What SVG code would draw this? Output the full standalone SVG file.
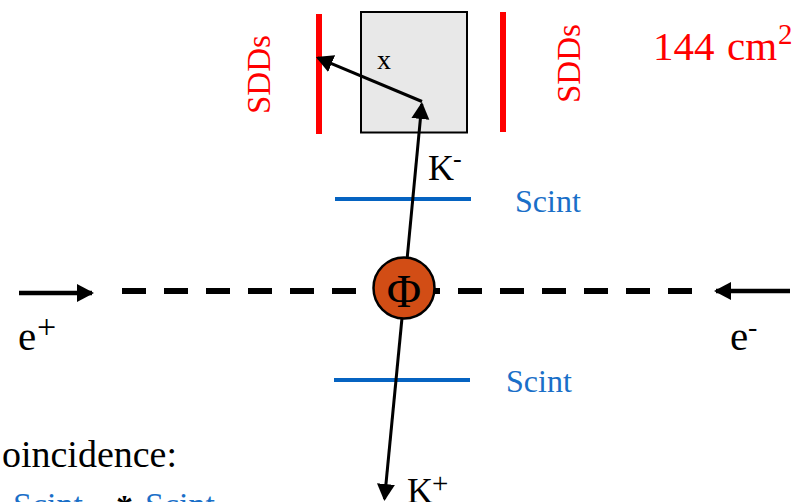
<svg xmlns="http://www.w3.org/2000/svg" width="798" height="502" viewBox="0 0 798 502">
<style>
text{font-family:"Liberation Serif","Times New Roman",serif}
.k{fill:#000}.r{fill:#f00}.b{fill:#1a6fc8}
.blue{stroke:#0563c1;stroke-width:4;fill:none}
.red{stroke:#f00;stroke-width:6;fill:none}
.thin{stroke:#000;stroke-width:3;fill:none}
.beam{stroke:#000;stroke-width:4.500;fill:none}
</style>
<defs>
<marker id="ah" markerUnits="userSpaceOnUse" markerWidth="19" markerHeight="19" refX="15" refY="9" orient="auto"><path d="M0 0L17 9L0 18Z" fill="#000"/></marker>
</defs>
<rect width="798" height="502" fill="#fff"/>
<g id="target"><rect x="361" y="12" width="106" height="120.500" fill="#e8e8e8" stroke="#000" stroke-width="2"/><text x="377" y="69" font-size="28" class="k">x</text></g>
<g id="sdd-left"><line x1="319" y1="14" x2="319" y2="134" class="red"/><text transform="translate(270 114) rotate(-90)" font-size="33" class="r">SDDs</text></g>
<g id="sdd-right"><line x1="503" y1="12" x2="503" y2="132" class="red"/><text transform="translate(580 103) rotate(-90)" font-size="33" class="r">SDDs</text></g>
<g id="area"><text x="653" y="60" font-size="41" class="r">144 <tspan x="727">cm</tspan><tspan x="778" font-size="29" dy="-16">2</tspan></text></g>
<g id="scint-top"><line x1="335" y1="199" x2="471" y2="199" class="blue"/><text x="515" y="212" font-size="32" class="b">Scint</text></g>
<g id="scint-bottom"><line x1="334" y1="380" x2="470" y2="380" class="blue"/><text x="506" y="392" font-size="32" class="b">Scint</text></g>
<g id="connectors">
<line x1="122" y1="291" x2="692" y2="291" stroke="#000" stroke-width="6" stroke-dasharray="24 18"/>
<line x1="19" y1="293" x2="92" y2="293" class="beam" marker-end="url(#ah)"/>
<line x1="790" y1="291" x2="716" y2="291" class="beam" marker-end="url(#ah)"/>
<line x1="407" y1="260" x2="421.800" y2="104" class="thin" marker-end="url(#ah)"/>
<line x1="422" y1="101.500" x2="317.800" y2="57.800" class="thin" marker-end="url(#ah)"/>
<line x1="402" y1="318" x2="384.500" y2="499" class="thin" marker-end="url(#ah)"/>
</g>
<g id="phi"><circle cx="404" cy="288" r="30.500" fill="#d24d15" stroke="#000" stroke-width="2.500"/><text x="404" y="306.500" font-size="47" text-anchor="middle" class="k">Φ</text></g>
<g id="labels">
<text x="428" y="180" font-size="36" class="k">K<tspan x="453" font-size="26" dy="-13">-</tspan></text>
<text x="407" y="503" font-size="36" class="k">K<tspan x="432" font-size="29" dy="-10">+</tspan></text>
<text x="18" y="350" font-size="41" class="k">e<tspan x="37" font-size="34" dy="-12">+</tspan></text>
<text x="730" y="350" font-size="41" class="k">e<tspan x="748" font-size="28" dy="-14">-</tspan></text>
<text x="2" y="467" font-size="37" class="k" textLength="175" lengthAdjust="spacingAndGlyphs">oincidence:</text>
<text x="13" y="516" font-size="34" class="b" textLength="70" lengthAdjust="spacingAndGlyphs">Scint</text>
<text x="116" y="518" font-size="34" font-weight="bold" class="k">*</text>
<text x="145" y="516" font-size="34" class="b" textLength="70" lengthAdjust="spacingAndGlyphs">Scint</text>
</g>
</svg>
